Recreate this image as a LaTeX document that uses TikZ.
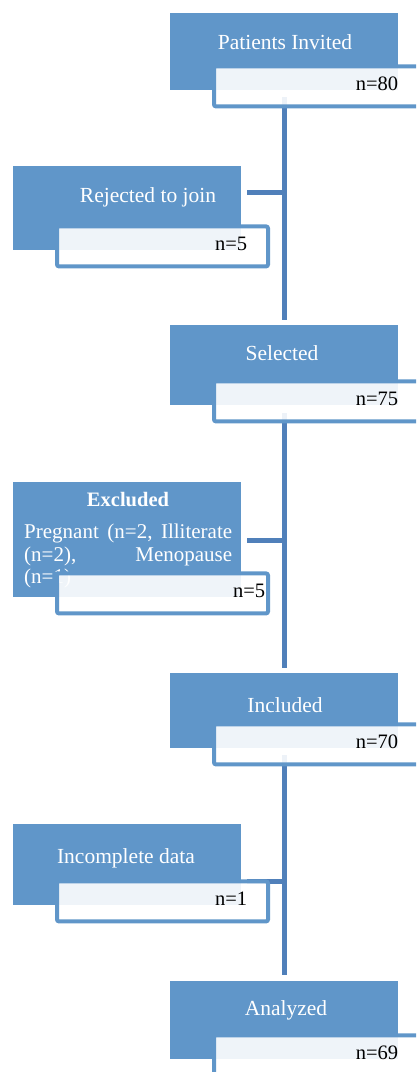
\documentclass[tikz,border=0pt]{standalone}
\usepackage{fontspec}
\setmainfont{Liberation Serif}
\definecolor{boxblue}{RGB}{96,150,201}
\definecolor{lineblue}{RGB}{80,128,186}

\begin{document}
\begin{tikzpicture}[x=1pt,y=-1pt,
  stagebox/.style={fill=boxblue,anchor=north west,inner sep=0pt,minimum width=228pt,minimum height=#1},
  stagebox/.default=78pt,
  tallybox/.style={draw=boxblue,line width=4pt,rounded corners=2pt,fill=white,fill opacity=.9,
      anchor=north west,inner sep=0pt,minimum width=211pt,minimum height=40pt},
  stagetext/.style={text=white,font=\fontsize{21.5}{25}\selectfont,anchor=base,inner sep=0pt},
  numtext/.style={font=\fontsize{20.5}{24}\selectfont,anchor=base east,inner sep=0pt},
  spineline/.style={draw=lineblue,line width=5pt}]
  \useasboundingbox (0,0) rectangle (416,1072);
  \clip (0,0) rectangle (416,1072);
  \coordinate (spine) at (284,0);
  \coordinate (rejTap) at (284,192);
  \coordinate (excTap) at (284,540);
  \coordinate (incTap) at (284,881);

  % stages
  \node[stagebox=77pt] (invited) at (170,13) {};
  \node[stagebox=84pt] (rejected) at (13,166) {};
  \node[stagebox=80pt] (selected) at (170,325) {};
  \node[stagebox=115pt] (excluded) at (13,482) {};
  \node[stagebox=75pt] (included) at (170,673) {};
  \node[stagebox=81pt] (incomplete) at (13,824) {};
  \node[stagebox] (analyzed) at (170,981) {};

  \node[stagetext] (invitedT) at (285,49) {Patients Invited};
  \node[stagetext] (rejectedT) at (148,202) {Rejected to join};
  \node[stagetext] (selectedT) at (282,360) {Selected};
  \node[stagetext,font=\bfseries\fontsize{20.5}{24}\selectfont] (excludedT) at (128,506) {Excluded};
  \node[stagetext,anchor=north west,text width=208pt,align=left,
        font=\fontsize{21}{22.5}\selectfont] (excludedR) at (24,524)
        {Pregnant\hfill (n=2,\hfill Illiterate\\(n=2),\hfill Menopause\\(n=1)};
  \node[stagetext] (includedT) at (285,712) {Included};
  \node[stagetext] (incompleteT) at (126,863) {Incomplete data};
  \node[stagetext] (analyzedT) at (286,1015) {Analyzed};

  % spine and side taps
  \draw[spineline] ([yshift=-7pt]invited.south -| spine) -- ([yshift=5pt]selected.north -| spine);
  \draw[spineline] ([yshift=-8pt]selected.south -| spine) -- ([yshift=5pt]included.north -| spine);
  \draw[spineline] ([yshift=-7pt]included.south -| spine) -- ([yshift=6pt]analyzed.north -| spine);
  \draw[spineline,shorten <=6pt] (rejected.east |- rejTap) -- (rejTap);
  \draw[spineline,shorten <=6pt] (excluded.east |- excTap) -- (excTap);
  \draw[spineline,shorten <=6pt] (incomplete.east |- incTap) -- (incTap);

  % counts
  \foreach \s in {invited,rejected,selected,excluded,included,incomplete,analyzed}
    \node[tallybox] (\s Box) at ([xshift=42pt,yshift=26pt]\s.south west) {};
  \node[numtext] (invitedNum) at (invited.south east) {n=80};
  \node[numtext] (rejectedNum) at ([xshift=6pt]rejected.south east) {n=5};
  \node[numtext] (selectedNum) at (selected.south east) {n=75};
  \node[numtext] (excludedNum) at ([xshift=24pt]excluded.south east) {n=5};
  \node[numtext] (includedNum) at (included.south east) {n=70};
  \node[numtext] (incompleteNum) at ([xshift=6pt]incomplete.south east) {n=1};
  \node[numtext] (analyzedNum) at (analyzed.south east) {n=69};
\end{tikzpicture}
\end{document}
